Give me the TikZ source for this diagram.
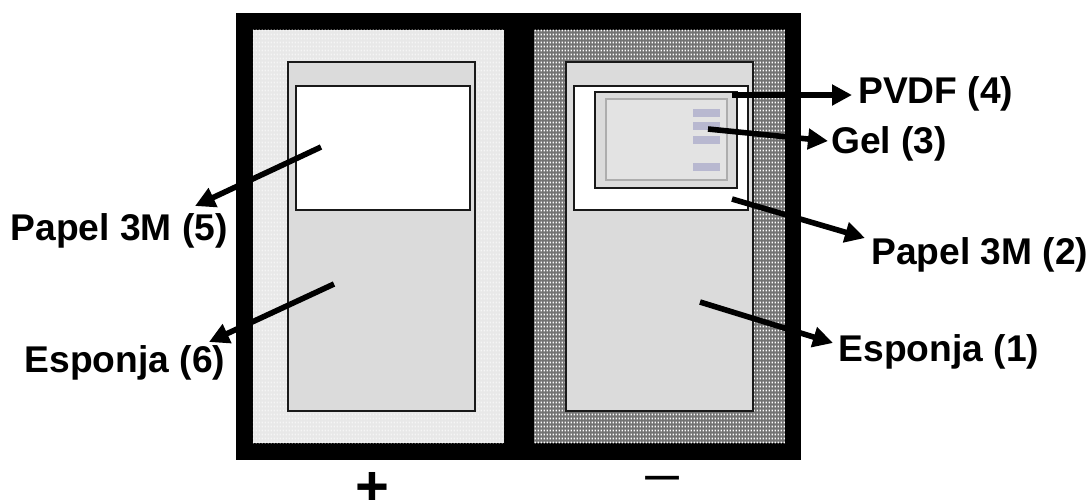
\documentclass[tikz,border=0pt]{standalone}
\usepackage{fontspec}
\setmainfont{Liberation Sans}
\usetikzlibrary{patterns,arrows.meta,calc}
\pgfdeclarepatternformonly{texdots}{\pgfpointorigin}{\pgfqpoint{3.2pt}{4pt}}{\pgfqpoint{3.2pt}{4pt}}{%
  \pgfpathrectangle{\pgfqpoint{0.9pt}{0.8pt}}{\pgfqpoint{1.4pt}{2.2pt}}\pgfusepath{fill}}
\definecolor{barblue}{HTML}{B8B8D0}
\tikzset{
  box/.style={draw=black!90,rectangle,inner sep=0pt,outer sep=0pt,line width=1.8pt},
  callout/.style={line width=5.6pt,-{Triangle[length=20pt,width=20pt]},shorten >=0pt},
  lab/.style={font=\fontsize{37.2}{40}\selectfont\bfseries,inner sep=0pt,anchor=base west},
  gelbar/.style={fill=barblue,rectangle,inner sep=0pt,minimum width=27pt,minimum height=8pt},
}
\newcommand{\rectnode}[6]{% name, style, x0,y0,x1,y1
  \node[#2,minimum width={(#5-#3)*1pt},minimum height={(#6-#4)*1pt}] (#1) at ({(#3+#5)/2},{(#4+#6)/2}) {};}
\begin{document}
\begin{tikzpicture}[x=1pt,y=-1pt]
\useasboundingbox (0,0) rectangle (1091,499);
\rectnode{frame}{fill=black,rectangle,inner sep=0pt}{236}{13}{801}{460}
% textured panels
\rectnode{padL}{fill=black!9,rectangle,inner sep=0pt}{253}{30}{504}{443}
\fill[pattern=texdots,pattern color=black!4] (padL.north west) rectangle (padL.south east);
\rectnode{padR}{fill=black!55,rectangle,inner sep=0pt}{534}{30}{785}{443}
\fill[pattern=texdots,pattern color=white] (padR.north west) rectangle (padR.south east);
% left stack
\rectnode{sponge6}{box,fill=black!14}{288}{62}{475}{411}
\rectnode{paper5}{box,fill=white}{296}{86}{470}{210}
% right stack
\rectnode{sponge1}{box,fill=black!14}{566}{62}{753}{411}
\rectnode{paper2}{box,fill=white}{574}{86}{748}{210}
\rectnode{pvdf}{box,fill=black!14}{595}{92}{737}{188}
\rectnode{gel}{draw=black!32,line width=1.3pt,fill=black!11,rectangle,inner sep=0pt}{606}{99}{727}{180}
\node[gelbar] (b1) at (706.5,113) {};
\node[gelbar] (b2) at (706.5,126) {};
\node[gelbar] (b3) at (706.5,140) {};
\node[gelbar] (b4) at (706.5,167) {};
% labels
\node[lab] (lPVDF) at (858,103.5) {PVDF (4)};
\node[lab] (lGel) at (831,153) {Gel (3)};
\node[lab] (lP2) at (871,264) {Papel 3M (2)};
\node[lab] (lE1) at (838.5,361) {Esponja (1)};
\node[lab] (lP5) at (10.5,240.5) {Papel 3M (5)};
\node[lab] (lE6) at (24.5,372) {Esponja (6)};
\node[font=\fontsize{58}{60}\selectfont\bfseries,inner sep=0pt] (plus) at (372.5,489) {+};
\node[font=\fontsize{58}{60}\selectfont,inner sep=0pt,anchor=base] (minus) at (663,468) {\_};
% connector start and end points
\coordinate (s4) at (732,95);
\coordinate (t4) at (852,95);
\coordinate (s3) at (708,129);
\coordinate (t3) at (828,141);
\coordinate (s2) at (732,199);
\coordinate (t2) at (865,238);
\coordinate (s1) at (700,302);
\coordinate (t1) at (833,343);
\coordinate (s5) at (321,147);
\coordinate (t5) at (195,206);
\coordinate (s6) at (334,284);
\coordinate (t6) at (209,342);
\draw[callout] (s4) -- (t4);
\draw[callout] (s3) -- (t3);
\draw[callout] (s2) -- (t2);
\draw[callout] (s1) -- (t1);
\draw[callout] (s5) -- (t5);
\draw[callout] (s6) -- (t6);
\end{tikzpicture}
\end{document}
